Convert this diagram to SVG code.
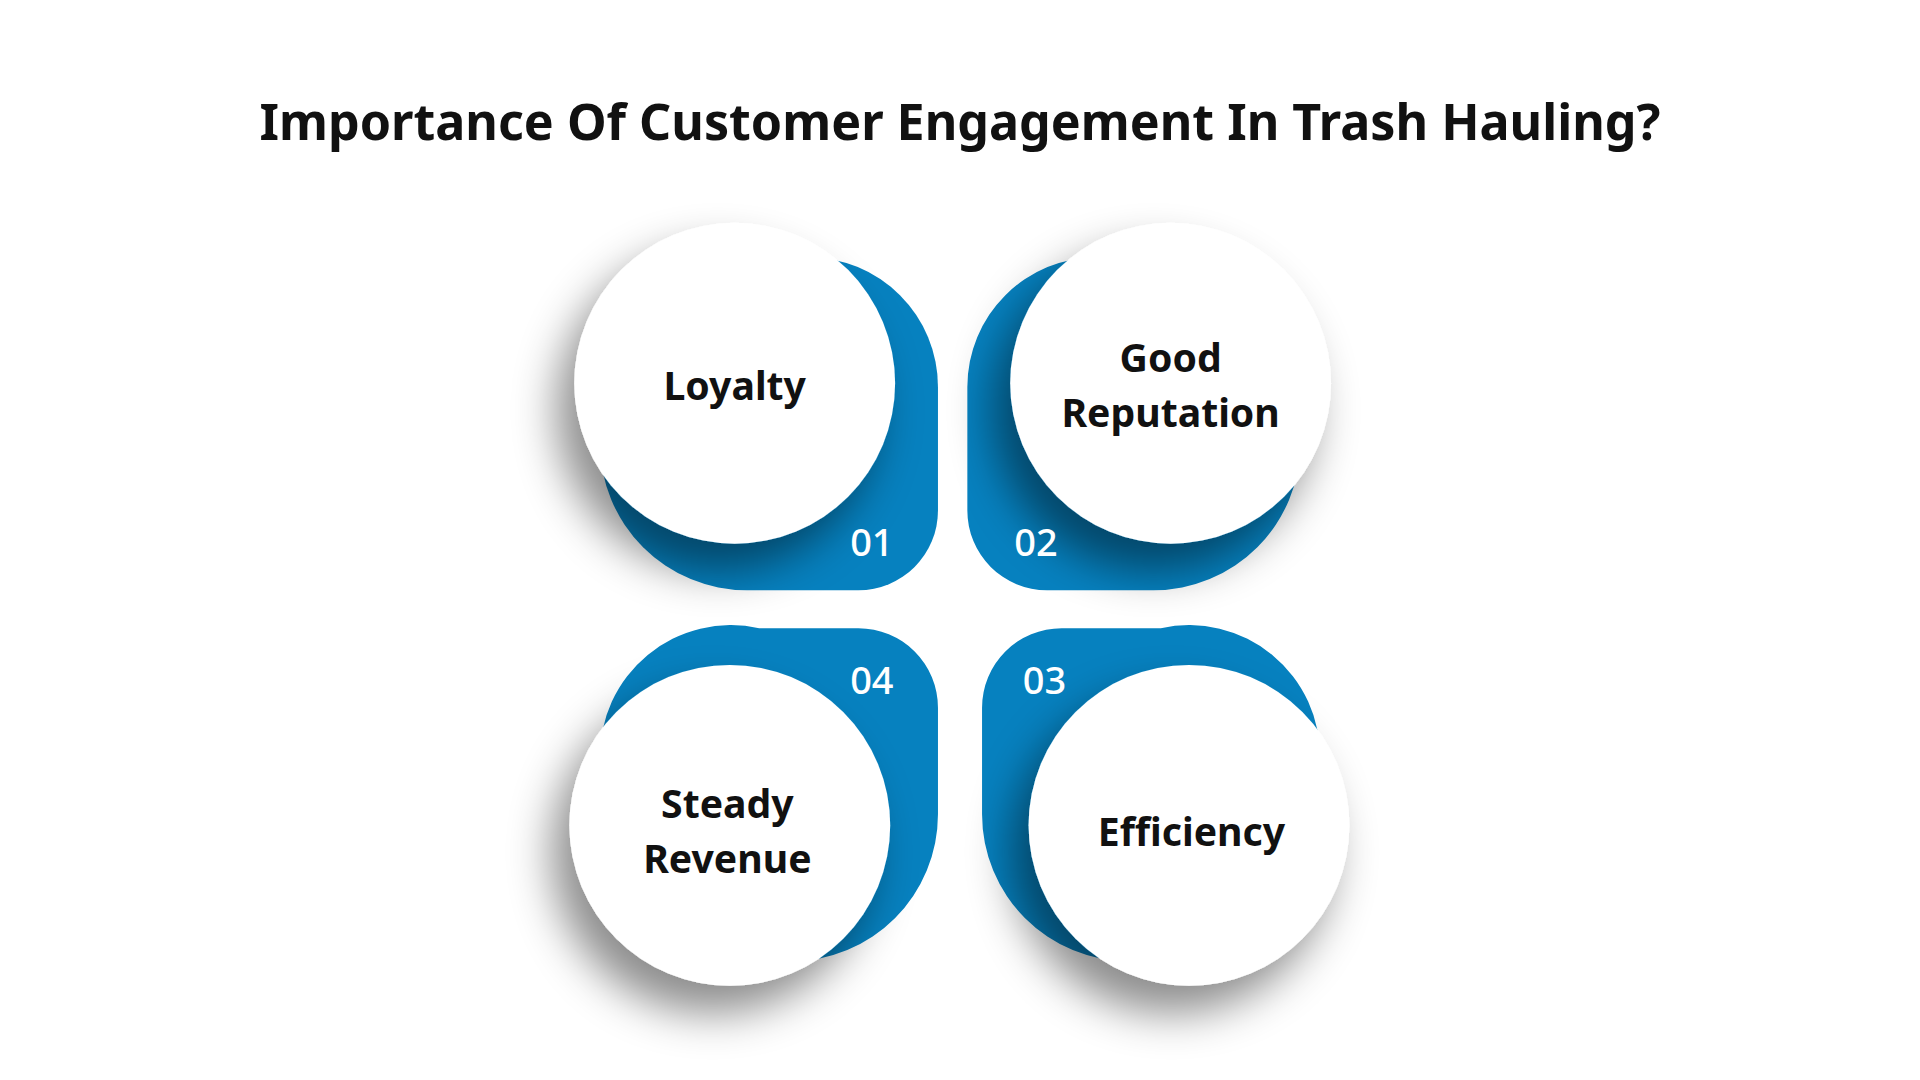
<svg xmlns="http://www.w3.org/2000/svg" width="1920" height="1080" viewBox="0 0 1920 1080">
<defs>
<filter id="sh" x="-50%" y="-50%" width="200%" height="200%"><feDropShadow dx="-14" dy="22" stdDeviation="18" flood-color="#000" flood-opacity="0.45"/></filter>
<linearGradient id="bl" x1="0" y1="0" x2="1" y2="1"><stop offset="0" stop-color="#0a78b3"/><stop offset="1" stop-color="#0384c4"/></linearGradient>
</defs>
<style>
.blob{fill:#0681bf}
.c{fill:#fff;filter:url(#sh)}
.t{font-family:"Noto Sans","DejaVu Sans",sans-serif;font-weight:bold;font-size:32px;fill:#111;text-anchor:middle}
.n{font-family:"Noto Sans","DejaVu Sans",sans-serif;font-weight:500;font-size:31px;fill:#fff;text-anchor:middle}
.h{font-family:"Noto Sans","DejaVu Sans",sans-serif;font-weight:bold;font-size:41px;fill:#111;text-anchor:middle}
</style>
<rect width="1920" height="1080" fill="#fff"/>
<g transform="scale(1.2245)">
<text class="h" x="784" y="114">Importance Of Customer Engagement In Trash Hauling?</text>
<g id="n1">
<path class="blob" d="M600 210 H660 A106 106 0 0 1 766 316 V417 A65 65 0 0 1 701 482 H610 A120 120 0 0 1 490 362 V320 A110 110 0 0 1 600 210 Z"/>
<circle class="c" cx="600" cy="313" r="131"/>
<text class="t" x="600" y="327">Loyalty</text>
<text class="n" x="712" y="454">01</text>
</g>
<g id="n2">
<path class="blob" d="M956 210 H896 A106 106 0 0 0 790 316 V417 A65 65 0 0 0 855 482 H942 A120 120 0 0 0 1062 362 V320 A110 110 0 0 0 956 210 Z"/>
<circle class="c" cx="956" cy="313" r="131"/>
<text class="t" x="956" y="304">Good</text>
<text class="t" x="956" y="349">Reputation</text>
<text class="n" x="846" y="454">02</text>
</g>
<g id="n4">
<path class="blob" d="M620 513 H701 A65 65 0 0 1 766 578 V665 A120 120 0 0 1 646 785 H600 A110 110 0 0 1 490 675 V620 A107 107 0 0 1 620 513 Z"/>
<circle class="c" cx="596" cy="674" r="131"/>
<text class="t" x="594" y="668">Steady</text>
<text class="t" x="594" y="713">Revenue</text>
<text class="n" x="712" y="567">04</text>
</g>
<g id="n3">
<path class="blob" d="M948 513 H867 A65 65 0 0 0 802 578 V665 A120 120 0 0 0 922 785 H968 A110 110 0 0 0 1078 675 V620 A107 107 0 0 0 948 513 Z"/>
<circle class="c" cx="971" cy="674" r="131"/>
<text class="t" x="973" y="691">Efficiency</text>
<text class="n" x="853" y="567">03</text>
</g>
<g id="connectors"/>
</g>
</svg>
